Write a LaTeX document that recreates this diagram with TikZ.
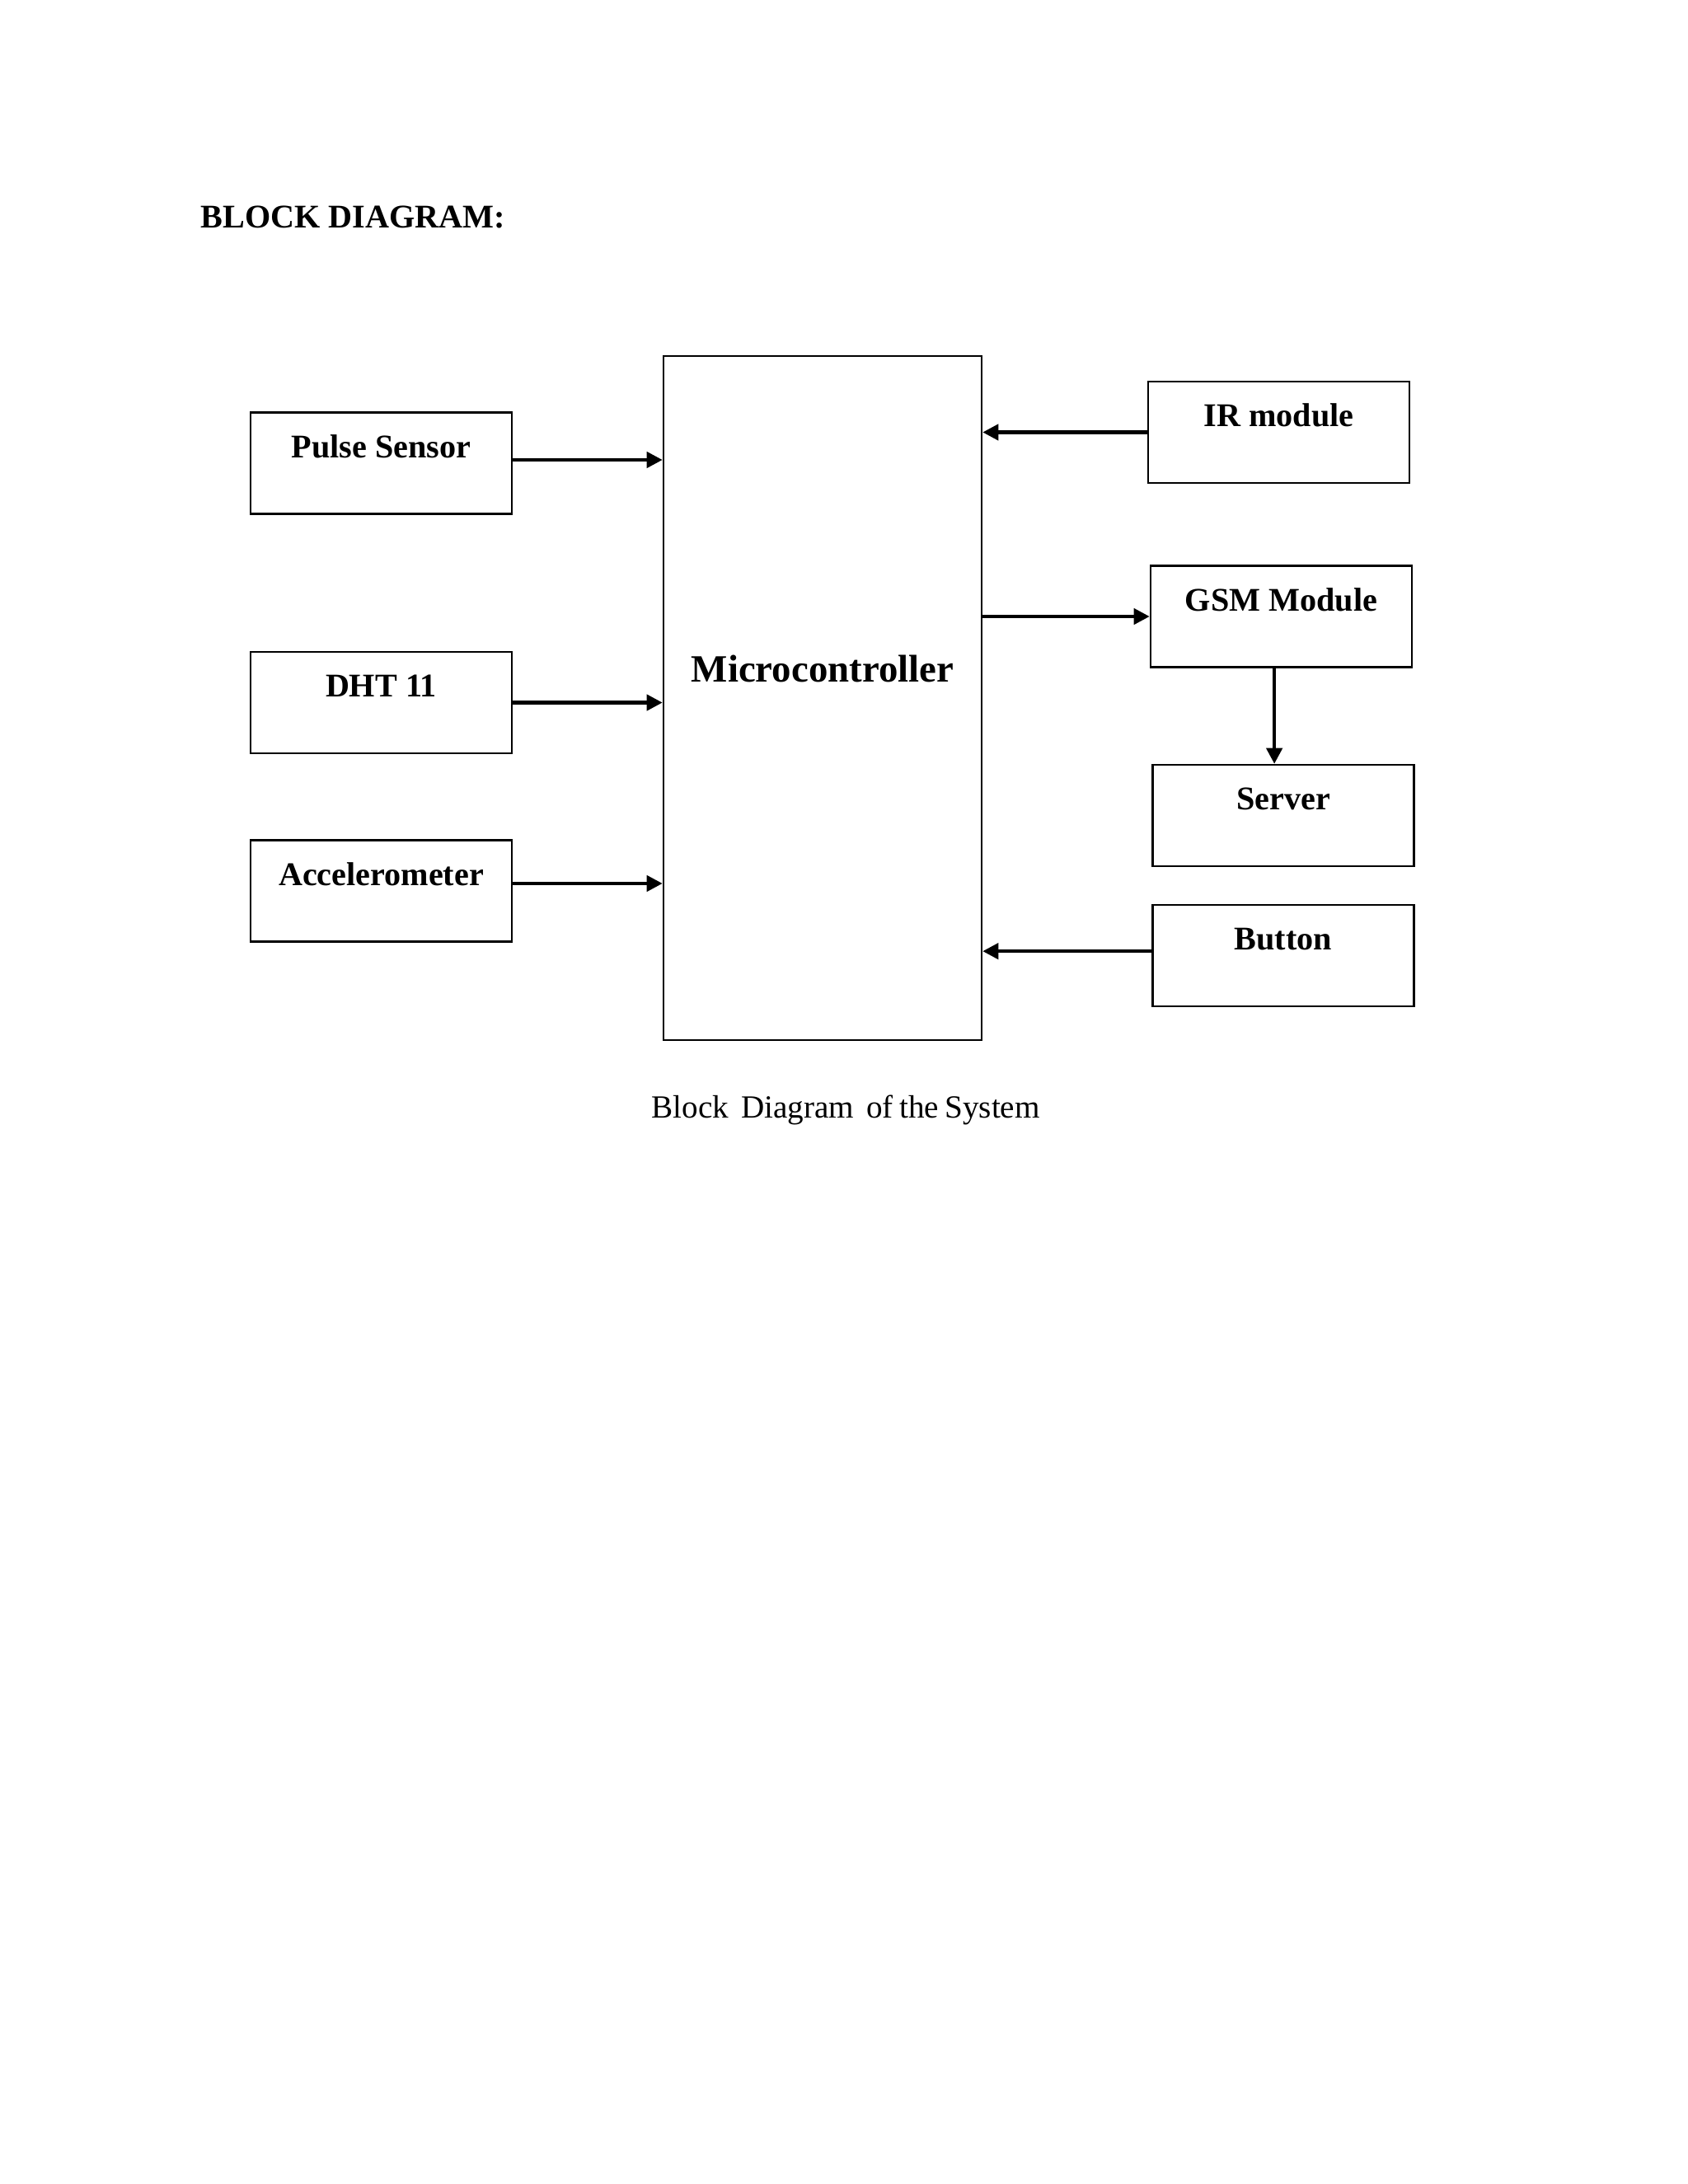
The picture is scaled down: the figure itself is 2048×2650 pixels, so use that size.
\documentclass[tikz,border=0pt]{standalone}
\usepackage{fontspec}
\setmainfont{Liberation Serif}
\usepackage{tikz}
\usetikzlibrary{arrows.meta}

\begin{document}
\begin{tikzpicture}[x=0.298828pt, y=-0.298828pt,
    box/.style={draw=black, line width=0.8pt, inner sep=0pt, minimum width=94.7pt,
      text height=16.4pt, text depth=20.3pt, font=\fontsize{12}{14}\selectfont\bfseries},
    arr/.style={line width=1.25pt, -{Triangle[length=5.7pt,width=5.7pt]}}]
    \useasboundingbox (0,0) rectangle (2048,2650);
    \fill[white] (0,0) rectangle (2048,2650);
    \node[anchor=base west, inner sep=0pt, font=\fontsize{12}{14}\selectfont\bfseries] (title) at (243,276) {BLOCK DIAGRAM:};
    \node[draw=black, line width=0.8pt, inner sep=0pt, minimum width=115.3pt,
      text height=118.3pt, text depth=129.7pt, font=\fontsize{14}{16}\selectfont\bfseries] (mc) at (998,847) {Microcontroller};
    \node[box] (ps) at (462.5,562) {Pulse Sensor};
    \node[box] (dht) at (462.5,852.5) {DHT 11};
    \node[box] (acc) at (462.5,1081) {Accelerometer};
    \node[box] (ir) at (1551.5,524.5) {IR module};
    \node[box] (gsm) at (1554.5,748) {GSM Module};
    \node[box] (srv) at (1557,989.5) {Server};
    \node[box] (btn) at (1557,1159.5) {Button};
    \node[anchor=base west, inner sep=0pt, font=\fontsize{11.7}{14}\selectfont] (cap) at (790,1356) {Block\hspace{4.5pt}Diagram\hspace{4.5pt}of\hspace{2.2pt}the\hspace{2.2pt}System};
    \path [arr] ([yshift=1.2pt]ps.east) edge ([yshift=1.2pt]ps.east -| mc.west);
    \path [arr] (dht) edge (dht -| mc.west);
    \path [arr] ([yshift=2.7pt]acc.east) edge ([yshift=2.7pt]acc.east -| mc.west);
    \path [arr] (ir) edge (ir -| mc.east);
    \path [arr] (gsm -| mc.east) edge (gsm);
    \path [arr] ([xshift=-2.5pt]gsm.south) edge ([xshift=-2.5pt]gsm.south |- srv.north);
    \path [arr] ([yshift=1.6pt]btn.west) edge ([yshift=1.6pt]btn.west -| mc.east);
  \end{tikzpicture}
\end{document}
